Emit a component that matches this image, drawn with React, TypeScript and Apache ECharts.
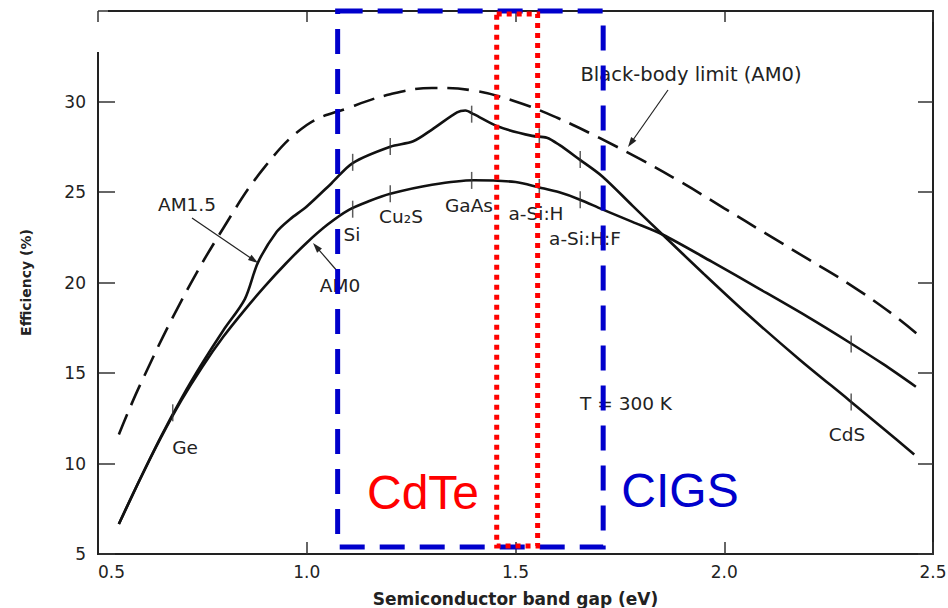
import React, { useEffect, useRef } from "react";
import * as echarts from "echarts";

// Band gap (eV) / efficiency (%) readings
const blackBodyX = [0.55, 0.6, 0.7, 0.8, 0.9, 1.0, 1.1, 1.2, 1.3, 1.4, 1.5, 1.6, 1.7, 1.8, 1.9, 2.0, 2.1, 2.2, 2.3, 2.4, 2.46];
const blackBodyY = [11.6, 14.3, 19.0, 23.0, 26.4, 28.7, 29.65, 30.4, 30.75, 30.6, 30.0, 29.1, 28.0, 26.8, 25.5, 24.1, 22.7, 21.3, 19.9, 18.3, 17.2];

const am15X = [0.55, 0.6, 0.65, 0.7, 0.75, 0.8, 0.852, 0.883, 0.928, 0.96, 1.0, 1.06, 1.11, 1.2, 1.255, 1.3, 1.36, 1.38, 1.4, 1.46, 1.54, 1.575, 1.605, 1.653, 1.708, 1.78, 1.852, 1.95, 2.053, 2.18, 2.299, 2.38, 2.455];
const am15Y = [6.66, 9.1, 11.45, 13.6, 15.55, 17.35, 19.1, 21.1, 22.8, 23.5, 24.2, 25.5, 26.6, 27.5, 27.8, 28.45, 29.4, 29.5, 29.3, 28.6, 28.1, 28.0, 27.6, 26.8, 25.86, 24.25, 22.65, 20.5, 18.3, 15.75, 13.5, 11.95, 10.5];

const am0X = [0.55, 0.6, 0.65, 0.7, 0.75, 0.8, 0.85, 0.9, 0.95, 1.0, 1.05, 1.1, 1.15, 1.2, 1.3, 1.4, 1.5, 1.557, 1.605, 1.653, 1.708, 1.78, 1.852, 1.97, 2.084, 2.2, 2.299, 2.38, 2.459];
const am0Y = [6.66, 9.1, 11.4, 13.5, 15.35, 17.0, 18.45, 19.8, 21.05, 22.2, 23.2, 24.0, 24.5, 24.9, 25.4, 25.65, 25.55, 25.25, 24.98, 24.59, 24.04, 23.35, 22.65, 21.15, 19.65, 18.1, 16.7, 15.5, 14.24];

// Material markers (small vertical ticks on the curves)
const markerX = [0.679, 1.11, 1.11, 1.2, 1.2, 1.395, 1.395, 1.557, 1.557, 1.655, 1.655, 2.304, 2.304];
const markerY = [12.8, 26.64, 24.05, 27.52, 24.9, 29.3, 25.64, 28.05, 25.25, 26.8, 24.57, 13.4, 16.6];

const xTicks = [0.5, 1.0, 1.5, 2.0, 2.5];
const yTicks = [5, 10, 15, 20, 25, 30];

// Highlighted band-gap windows (eV)
const cigsRange = [1.074, 1.71];
const cdteRange = [1.455, 1.553];

const FONT = "DejaVu Sans";

function arrow(x1: number, y1: number, x2: number, y2: number) {
  const dx = x2 - x1;
  const dy = y2 - y1;
  const len = Math.sqrt(dx * dx + dy * dy);
  const ux = dx / len;
  const uy = dy / len;
  const nx = -uy;
  const ny = ux;
  const L = 10;
  const W = 3.2;
  return [
    { type: "line", shape: { x1, y1, x2: x2 - ux * 4, y2: y2 - uy * 4 }, style: { stroke: "#222", lineWidth: 1.2 }, z: 10 },
    {
      type: "polygon",
      shape: {
        points: [
          [x2, y2],
          [x2 - ux * L + nx * W, y2 - uy * L + ny * W],
          [x2 - ux * L - nx * W, y2 - uy * L - ny * W],
        ],
      },
      style: { fill: "#222" },
      z: 10,
    },
  ];
}

function label(text: string, x: number, y: number, size = 18.5, color = "#222", family = FONT) {
  return {
    type: "text",
    x,
    y,
    z: 12,
    style: { text, fill: color, font: `${size}px "${family}"`, align: "center", verticalAlign: "middle" },
  };
}

export default function App() {
  const ref = useRef<HTMLDivElement>(null);
  useEffect(() => {
    if (!ref.current) return;
    const chart = echarts.init(ref.current, undefined, { renderer: "svg" });
    const zip = (xs: number[], ys: number[]) => xs.map((x, i) => [x, ys[i]]);
    chart.setOption({
      animation: false,
      backgroundColor: "#fff",
      grid: { left: 98, right: 15, top: 11, bottom: 54, outerBoundsMode: "none" },
      xAxis: [
        {
          type: "value",
          min: 0.5,
          max: 2.5,
          interval: 0.5,
          axisLine: { show: true, lineStyle: { color: "#222", width: 2 } },
          axisTick: { show: true, inside: true, length: 12, lineStyle: { color: "#333", width: 1.5 } },
          axisLabel: {
            color: "#222",
            fontFamily: FONT,
            fontSize: 17,
            margin: 9,
            alignMinLabel: "left",
            formatter: (v: number) => (xTicks.includes(v) ? v.toFixed(1) : ""),
          },
          splitLine: { show: false },
          name: "Semiconductor band gap (eV)",
          nameLocation: "middle",
          nameGap: 36,
          nameTextStyle: { color: "#222", fontFamily: FONT, fontSize: 17, fontWeight: "bold" },
        },
        {
          type: "value",
          position: "top",
          min: 0.5,
          max: 2.5,
          interval: 0.5,
          axisLine: { show: false },
          axisTick: { show: true, inside: true, length: 11, lineStyle: { color: "#333", width: 1.5 } },
          axisLabel: { show: false },
          splitLine: { show: false },
        },
      ],
      yAxis: [
        {
          type: "value",
          min: 5,
          max: 35,
          interval: 5,
          axisLine: { show: false },
          axisTick: { show: true, inside: true, length: 17, lineStyle: { color: "#333", width: 1.5 } },
          axisLabel: {
            color: "#222",
            fontFamily: FONT,
            fontSize: 17,
            margin: 12,
            formatter: (v: number) => (yTicks.includes(v) ? String(v) : ""),
          },
          splitLine: { show: false },
          name: "Efficiency (%)",
          nameLocation: "middle",
          nameGap: 65,
          nameTextStyle: { color: "#222", fontFamily: FONT, fontSize: 14, fontWeight: "bold" },
        },
        {
          type: "value",
          position: "right",
          min: 5,
          max: 35,
          interval: 5,
          axisLine: { show: true, lineStyle: { color: "#222", width: 2 } },
          axisTick: { show: true, inside: true, length: 15, lineStyle: { color: "#333", width: 1.5 } },
          axisLabel: { show: false },
          splitLine: { show: false },
        },
      ],
      series: [
        {
          name: "Black-body limit (AM0)",
          type: "line",
          data: zip(blackBodyX, blackBodyY),
          smooth: 0.4,
          symbol: "none",
          lineStyle: { color: "#111", width: 2.6, type: [22, 10] },
          z: 3,
        },
        {
          name: "AM1.5",
          type: "line",
          data: zip(am15X, am15Y),
          smooth: 0.3,
          symbol: "none",
          lineStyle: { color: "#111", width: 2.6 },
          z: 3,
        },
        {
          name: "AM0",
          type: "line",
          data: zip(am0X, am0Y),
          smooth: 0.3,
          symbol: "none",
          lineStyle: { color: "#111", width: 2.6 },
          z: 3,
        },
        {
          name: "markers",
          type: "scatter",
          data: zip(markerX, markerY),
          symbol: "rect",
          symbolSize: [1.5, 17],
          itemStyle: { color: "#333" },
          z: 4,
        },
      ],
    });

    const p = (x: number, y: number) => chart.convertToPixel({ gridIndex: 0 }, [x, y]) as number[];
    const [gl, gb] = p(0.5, 5);
    const [gr, gt] = p(2.5, 35);
    const [bL] = p(cigsRange[0], 5);
    const [bR] = p(cigsRange[1], 5);
    const [rL] = p(cdteRange[0], 5);
    const [rR] = p(cdteRange[1], 5);

    chart.setOption({
      graphic: [
        // left axis line and top frame line (as in the scanned original)
        { type: "line", shape: { x1: gl, y1: gt + 41, x2: gl, y2: gb + 1 }, style: { stroke: "#222", lineWidth: 2 }, z: 5 },
        { type: "line", shape: { x1: gl + 10, y1: gt, x2: gr + 1, y2: gt }, style: { stroke: "#222", lineWidth: 2 }, z: 5 },
        // CIGS window (blue dashed)
        {
          type: "rect",
          shape: { x: bL, y: gt, width: bR - bL, height: gb - 7 - gt },
          style: { fill: "none", stroke: "#0000cc", lineWidth: 5, lineDash: [25, 15] },
          z: 20,
        },
        // CdTe window (red dotted)
        {
          type: "rect",
          shape: { x: rL, y: gt + 3, width: rR - rL, height: gb - 8 - gt - 3 },
          style: { fill: "none", stroke: "#ff0000", lineWidth: 5, lineDash: [5, 5] },
          z: 21,
        },
        ...arrow(192, 218, 258, 263),
        ...arrow(338, 272, 313, 243),
        ...arrow(668, 90, 628, 147),
        label("AM1.5", 187, 204),
        label("AM0", 340, 285),
        label("Si", 352, 234),
        label("Cu\u2082S", 401, 216),
        label("GaAs", 469, 205),
        label("a-Si:H", 536, 213),
        label("a-Si:H:F", 585, 238),
        label("CdS", 847, 434),
        label("Ge", 185, 447),
        label("Black-body limit (AM0)", 691, 74, 19.5),
        label("T = 300 K", 626, 403),
        label("CdTe", 423, 492, 48, "#ff0000", "Liberation Sans"),
        label("CIGS", 680, 490, 48, "#0000cc", "Liberation Sans"),
      ],
    });

    return () => chart.dispose();
  }, []);
  return (
    <div
      ref={ref}
      style={{ position: "absolute", left: 0, top: 0, width: 948, height: 608, background: "#fff" }}
    />
  );
}
